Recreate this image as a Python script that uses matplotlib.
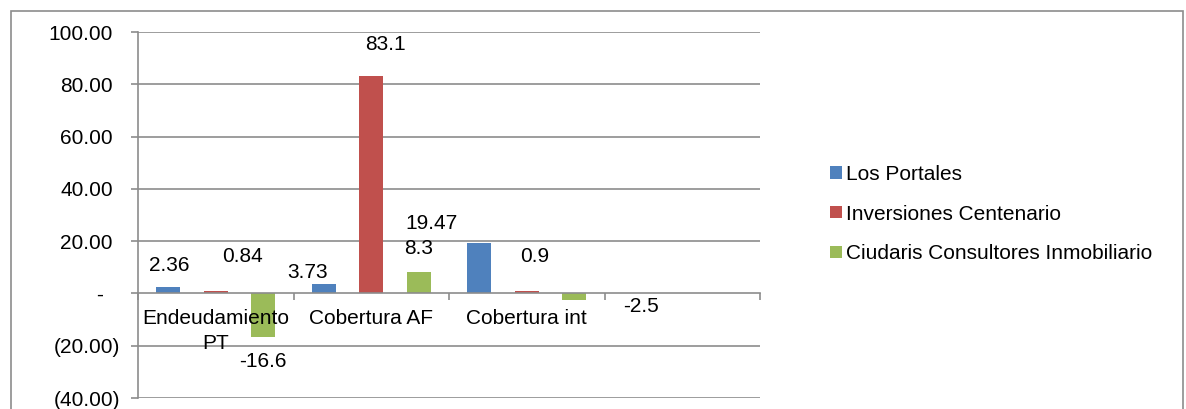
import matplotlib
matplotlib.use("Agg")
import matplotlib.pyplot as plt
from matplotlib.patches import Patch, Rectangle
from matplotlib.transforms import ScaledTranslation
import numpy as np

plt.rcParams['font.family'] = ['Liberation Sans', 'DejaVu Sans']

# data
categories = ["Endeudamiento\nPT", "Cobertura AF", "Cobertura int", ""]
series_names = ["Los Portales", "Inversiones Centenario",
                "Ciudaris Consultores Inmobiliario"]
los_portales = [2.36, 3.73, 19.47, np.nan]
inversiones_centenario = [0.84, 83.1, 0.9, np.nan]
ciudaris = [-16.6, 8.3, -2.5, np.nan]
yticks = [-40, -20, 0, 20, 40, 60, 80, 100]
ytick_labels = ["(40.00)", "(20.00)", "-", "20.00", "40.00", "60.00", "80.00", "100.00"]

colors = ["#4F81BD", "#C0504D", "#9BBB59"]
grid_color = "#8C8C8C"
fs = 15

# label offsets (pixels) from each bar tip, as placed in the original chart
label_offsets = [
    [(1, 22), (-16, 11), (-48, 19)],
    [(27, 35), (14, 32), (8, 35)],
    [(0, -25), (0, 23), (67, -7)],
]

fig = plt.figure(figsize=(11.86, 4.09), dpi=100)
W, H = 1186, 409
ax = fig.add_axes([138 / W, 1 - 398 / H, (760 - 138) / W, (398 - 32) / H])

# outer chart frame
fig.patches.append(Rectangle((11 / W, -0.2), (1183 - 11) / W, 1.2 - 11 / H,
                             transform=fig.transFigure, fill=False,
                             edgecolor="#8C8C8C", linewidth=1.2))

# move x axis to zero first: this resets the ticks
ax.spines["bottom"].set_position(("data", 0))

x = np.arange(len(categories))
width = 0.154
step = 0.3055
all_series = [los_portales, inversiones_centenario, ciudaris]

# gridlines under the bars, category labels over them
for yt in yticks:
    if yt != 0:
        ax.axhline(yt, color=grid_color, linewidth=1.2, zorder=1)
ax.set_axisbelow(False)

for k, (vals, name, c) in enumerate(zip(all_series, series_names, colors)):
    pos = x + (k - 1) * step
    ax.bar(pos, vals, width=width, color=c, label=name, zorder=2)
    for i, v in enumerate(vals):
        if np.isnan(v):
            continue
        dx, dy = label_offsets[k][i]
        ax.annotate(f"{v:g}", xy=(pos[i], v), xytext=(dx, dy),
                    textcoords="offset pixels", ha="center", va="center",
                    fontsize=fs, zorder=4)

ax.set_xlim(-0.5, len(categories) - 0.5)
ax.set_ylim(-40, 100)

ax.set_yticks(yticks)
ax.set_yticklabels(ytick_labels, fontsize=fs)
ax.tick_params(axis="y", length=5, width=1.2, color=grid_color, pad=8)

# align labels like an accounting number format
for lab in ax.get_yticklabels():
    t = lab.get_text()
    if t.startswith("("):
        shift = 0
    elif t == "-":
        shift = -17
    else:
        shift = -7
    lab.set_transform(lab.get_transform() +
                      ScaledTranslation(shift / 100, 0, fig.dpi_scale_trans))

ax.set_xticks(x)
ax.set_xticklabels(categories, fontsize=fs, linespacing=1.4)
ax.set_xticks(np.arange(len(categories) + 1) - 0.5, minor=True)
ax.tick_params(axis="x", which="major", length=0, pad=11)
ax.tick_params(axis="x", which="minor", length=5, width=1.2, color=grid_color)

ax.spines["bottom"].set_color(grid_color)
ax.spines["bottom"].set_linewidth(1.2)
ax.spines["bottom"].set_zorder(3.5)
ax.spines["left"].set_color(grid_color)
ax.spines["left"].set_linewidth(1.2)
ax.spines["top"].set_visible(False)
ax.spines["right"].set_visible(False)

handles = [Patch(facecolor=c, edgecolor="none") for c in colors]
fig.legend(handles, series_names, loc="center left",
           bbox_to_anchor=(820 / W, 1 - 214 / H), frameon=False,
           fontsize=fs, handlelength=0.55, handleheight=0.55,
           handletextpad=0.2, labelspacing=1.0, borderpad=0)

fig.savefig("out.png", dpi=100)
